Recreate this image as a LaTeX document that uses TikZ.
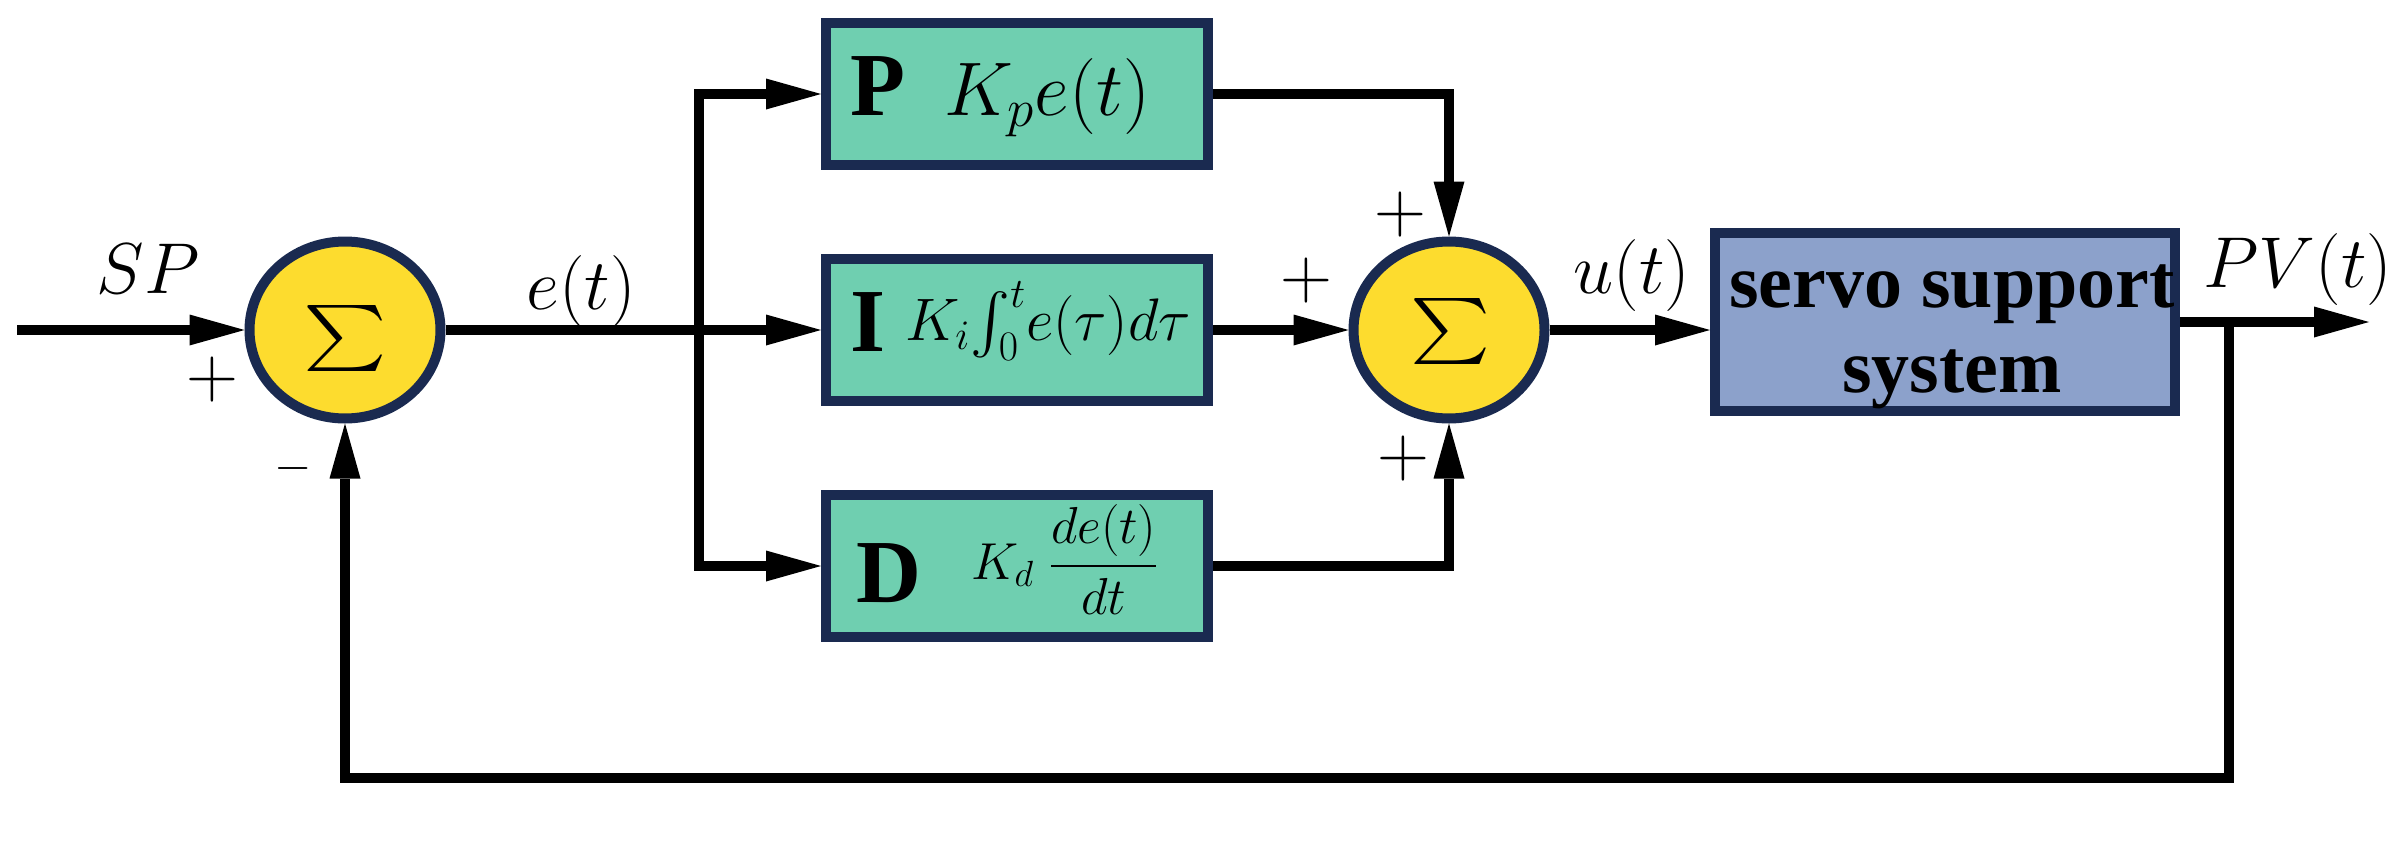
\RequirePackage{fix-cm}
\documentclass[tikz,border=0pt]{standalone}
\usepackage{amsmath}
\usepackage{graphicx}
\DeclareFontShape{OMX}{cmex}{m}{n}{<-> cmex10}{}
\usepackage{fontspec}
\setmainfont{Liberation Serif}
\usetikzlibrary{arrows.meta,shapes.geometric,calc}
\definecolor{navy}{HTML}{1A2A50}
\definecolor{sumyellow}{HTML}{FDDC2E}
\definecolor{pidgreen}{HTML}{6FCFB0}
\definecolor{servoblue}{HTML}{8CA1CB}
\tikzset{
  conn/.style={line width=5pt, draw=black},
  arr/.style={conn, -{Triangle[length=27.5pt,width=15.5pt,line width=0pt]}},
  arrtwo/.style={conn, {Triangle[length=27.5pt,width=15.5pt,line width=0pt]}-{Triangle[length=27.5pt,width=15.5pt,line width=0pt]}},
  blockg/.style={draw=navy, line width=5pt, fill=pidgreen, minimum width=191pt, minimum height=71pt, inner sep=0},
  servobox/.style={draw=navy, line width=5pt, fill=servoblue, minimum width=230pt, minimum height=89pt, inner sep=0},
  sumnode/.style={ellipse, draw=navy, line width=5pt, fill=sumyellow, minimum width=95.5pt, minimum height=88.5pt, inner sep=0},
  lbl/.style={font=\fontsize{36}{40}\selectfont, inner sep=0},
  sgn/.style={font=\fontsize{36}{40}\selectfont, inner sep=0},
  bletter/.style={font=\fontsize{45}{50}\selectfont\bfseries, inner sep=0},
  sigmatext/.style={font=\fontsize{33}{40}\selectfont, inner sep=0}
}
\begin{document}
\begin{tikzpicture}[x=0.5pt,y=-0.5pt]
\useasboundingbox (0,0) rectangle (2400,862);
% blocks
\node[sumnode] (s1) at (345,330) {};
\node[sigmatext] (s1t) at (345,338) {\scalebox{1.2}[1]{$\textstyle\sum$}};
\node[blockg] (P) at (1017,94) {};
\node[blockg] (I) at (1017,330) {};
\node[blockg] (D) at (1017,566) {};
\node[sumnode] (s2) at (1449,330) {};
\node[sigmatext] (s2t) at (1451,331) {\scalebox{1.15}[1]{$\textstyle\sum$}};
\node[servobox] (servo) at (1945,322) {};
\node[font=\fontsize{38}{42.5}\selectfont\bfseries, align=center, inner sep=0] (servot) at (1952,337) {servo support\\system};
% block contents
\node[bletter, anchor=base west] (pl) at (850,115) {P};
\node[font=\fontsize{38}{42}\selectfont, inner sep=0, anchor=base west] (pe) at (944,115) {$K_pe(t)$};
\node[bletter, anchor=base west] (il) at (850,351) {I};
\node[font=\fontsize{30}{34}\selectfont, inner sep=0, anchor=base west] (ie) at (905,340) {$K_i{\int_0^t} e(\tau)d\tau$};
\node[bletter, anchor=base west] (dl) at (856,602) {D};
\node[font=\fontsize{26}{30}\selectfont, inner sep=0, anchor=base west] (de) at (971,579) {$K_d\;\dfrac{de(t)}{dt}$};
% coordinates
\coordinate (in) at (17,330);
\coordinate (brt) at (699,94);
\coordinate (brb) at (699,566);
\coordinate (out) at (2369,322);
\coordinate (fb) at (2229,322);
\coordinate (fbb) at (2229,778);
% connectors
\draw[arr] (in) -- (s1.west);
\draw[arr] (s1.east) -- (I.west);
\draw[arrtwo] (P.west) -- (brt) -- (brb) -- (D.west);
\draw[arr] (P.east) -| (s2.north);
\draw[arr] (I.east) -- (s2.west);
\draw[arr] (D.east) -| (s2.south);
\draw[arr] (s2.east) -- (s2.east -| servo.west);
\draw[arr] (servo.east) -- (out);
\draw[arr] (fb) -- (fbb) -| (s1.south);
% labels
\node[lbl, anchor=base] (sp) at (148,293) {$SP$};
\node[sgn] (p1) at (212,379) {$+$};
\node[font=\fontsize{24}{28}\selectfont, inner sep=0] (m1) at (293,468) {$-$};
\node[lbl, anchor=base] (et) at (581,309) {$e(t)$};
\node[lbl, anchor=base] (ut) at (1632,293) {$u(t)$};
\node[lbl, anchor=base] (pv) at (2298,287) {$PV(t)$};
\node[sgn] (p2) at (1400,214) {$+$};
\node[sgn] (p3) at (1306,280) {$+$};
\node[sgn] (p4) at (1403,458) {$+$};
\end{tikzpicture}
\end{document}
